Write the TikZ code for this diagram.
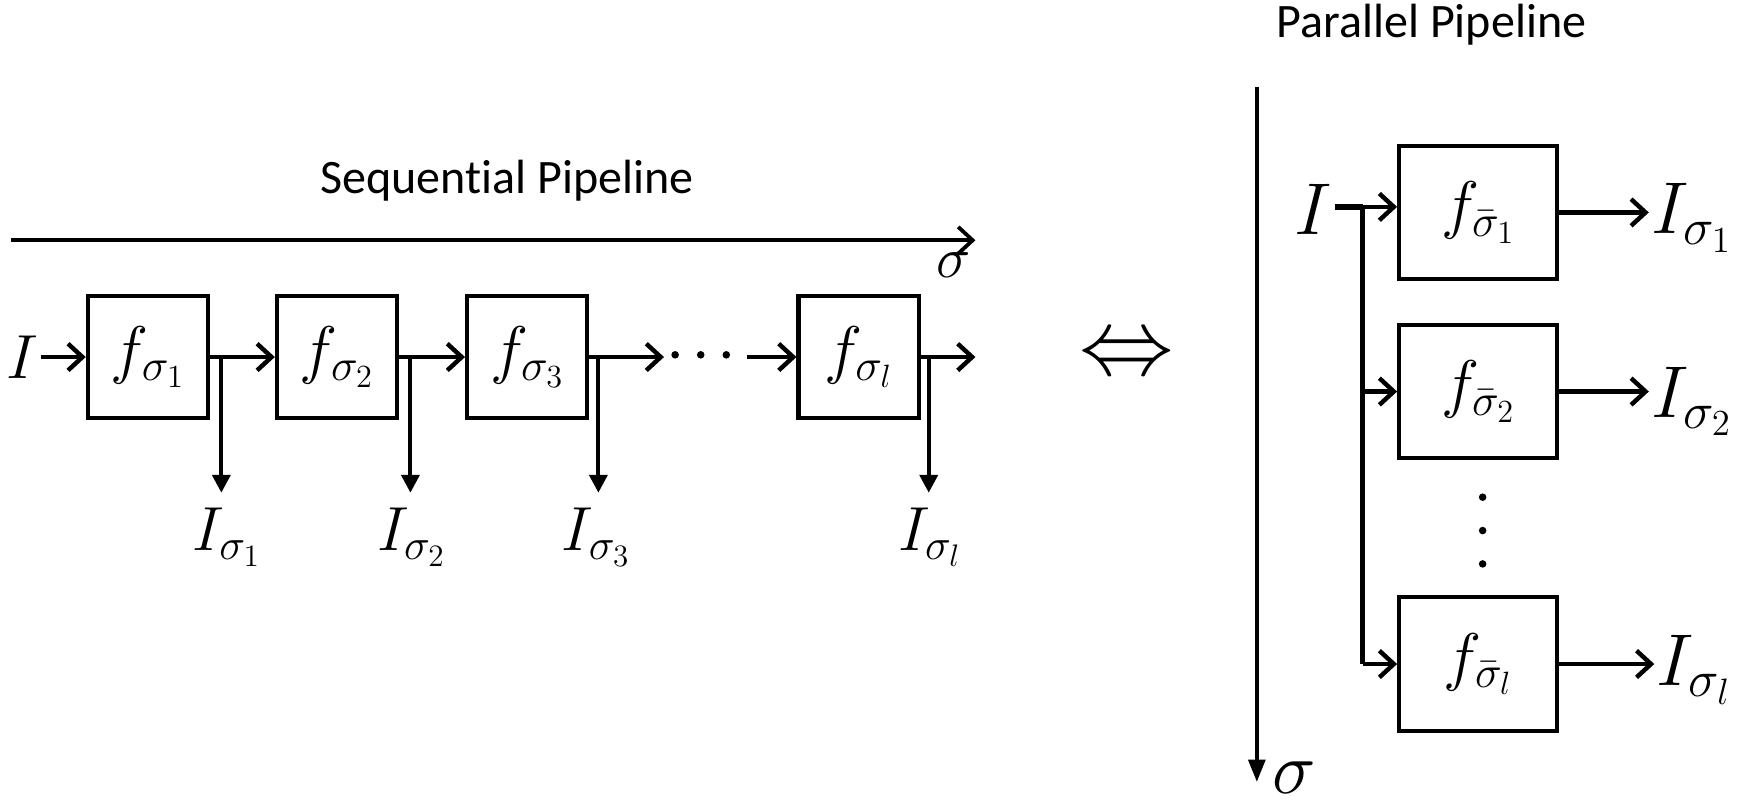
\documentclass[tikz,border=0pt]{standalone}
\usepackage{fontspec}
\newfontfamily\titlefont[Ligatures=NoCommon]{Carlito}
\DeclareFontShape{OML}{cmm}{m}{it}{<-6>cmmi5 <6-8>cmmi7 <8-11>cmmi10 <11->cmmi12}{}
\DeclareFontShape{OMS}{cmsy}{m}{n}{<-6>cmsy5 <6-8>cmsy7 <8->cmsy10}{}
\DeclareFontShape{OT1}{cmr}{m}{n}{<-6>cmr5 <6-8>cmr7 <8-11>cmr10 <11->cmr12}{}
\usetikzlibrary{arrows.meta}
\begin{document}
\begin{tikzpicture}[x=0.5pt,y=-0.5pt,
  fbox/.style={draw,line width=1.9pt,inner sep=0pt,minimum width=54pt,minimum height=55pt,font=\fontsize{29}{34}\selectfont},
  pbox/.style={fbox,minimum width=71pt,minimum height=60pt},
  flow/.style={line width=2pt,-{Straight Barb[length=6.5pt,width=12pt]}},
  tap/.style={line width=1.8pt,-{Triangle[length=8pt,width=8pt]}},
  axisline/.style={line width=1.7pt,-{Straight Barb[length=6.5pt,width=12pt]}},
  paxis/.style={line width=1.7pt,-{Triangle[length=10pt,width=7.5pt]}},
  mathlbl/.style={font=\fontsize{28}{33}\selectfont,inner sep=1pt},
  biglbl/.style={font=\fontsize{33}{38}\selectfont,inner sep=1pt},
  ttl/.style={font=\titlefont\fontsize{21.6}{26}\selectfont,inner sep=0pt},
  dot/.style={fill=black}
  ]
\useasboundingbox (0,0) rectangle (1568,725);

% ---------- Sequential pipeline ----------
\node[ttl] (stitle) at (456,162) {Sequential Pipeline};
\coordinate (sa0) at (10,216);
\coordinate (sa1) at (877,216);
\draw[axisline] (sa0) -- (sa1);
\node[mathlbl,font=\fontsize{26}{30}\selectfont] (ssig) at (857,238) {$\sigma$};

\node[mathlbl] (sI) at (20,321) {$I$};
\node[fbox] (b1) at (133,321) {$f_{\sigma_1}$};
\node[fbox] (b2) at (303,321) {$f_{\sigma_2}$};
\node[fbox] (b3) at (474,321) {$f_{\sigma_3}$};
\node[fbox] (bl) at (772,321) {$f_{\sigma_l}$};

\coordinate (dl) at (597,321);
\coordinate (dr) at (672,321);
\coordinate (send) at (877,321);
\fill[dot] (607,319) circle (1.7pt);
\fill[dot] (630,319) circle (1.7pt);
\fill[dot] (653,319) circle (1.7pt);

\draw[flow] (sI) -- (b1);
\draw[flow] (b1) -- (b2);
\draw[flow] (b2) -- (b3);
\draw[flow] (b3) -- (dl);
\draw[flow] (dr) -- (bl);
\draw[flow] (bl) -- (send);

\coordinate (t1) at (199,321); \coordinate (t1e) at (199,443);
\coordinate (t2) at (369,321); \coordinate (t2e) at (369,443);
\coordinate (t3) at (538,321); \coordinate (t3e) at (538,443);
\coordinate (t4) at (835,321); \coordinate (t4e) at (835,443);
\draw[tap] (t1) -- (t1e);
\draw[tap] (t2) -- (t2e);
\draw[tap] (t3) -- (t3e);
\draw[tap] (t4) -- (t4e);

\node[mathlbl] (o1) at (204,483) {$I_{\sigma_1}$};
\node[mathlbl] (o2) at (370,483) {$I_{\sigma_2}$};
\node[mathlbl] (o3) at (536,483) {$I_{\sigma_3}$};
\node[mathlbl] (o4) at (836,483) {$I_{\sigma_l}$};

% ---------- Equivalence ----------
\node[font=\fontsize{42.5}{50}\selectfont,inner sep=0pt] (eq) at (1013,321) {$\Leftrightarrow$};

% ---------- Parallel pipeline ----------
\node[ttl] (ptitle) at (1287,22) {Parallel Pipeline};
\coordinate (pa0) at (1130,78);
\coordinate (pa1) at (1130,703);
\draw[paxis] (pa0) -- (pa1);
\node[biglbl,inner sep=0pt] (psig) at (1164,699) {$\sigma$};

\node[biglbl] (pI) at (1181,188) {$I$};
\node[pbox] (p1) at (1329,191) {$f_{\bar\sigma_1}$};
\node[pbox] (p2) at (1329,352) {$f_{\bar\sigma_2}$};
\node[pbox] (pl) at (1329,597) {$f_{\bar\sigma_l}$};

\coordinate (j0) at (1225,186);
\coordinate (j2) at (1225,352);
\coordinate (jl) at (1225,597);
\draw[line width=3pt] (pI.east |- j0) -- (j0);
\draw[line width=2pt] (j0) -- (jl);
\draw[flow] (j0) -- (j0 -| p1.west);
\draw[flow] (j2) -- (j2 -| p2.west);
\draw[flow] (jl) -- (jl -| pl.west);

\fill[dot] (1333,447) circle (1.7pt);
\fill[dot] (1333,477) circle (1.7pt);
\fill[dot] (1333,507) circle (1.7pt);

\node[biglbl] (q1) at (1521,196) {$I_{\sigma_1}$};
\node[biglbl] (q2) at (1521,361) {$I_{\sigma_2}$};
\node[biglbl] (ql) at (1523,602) {$I_{\sigma_l}$};
\draw[flow] (p1.east) -- (p1.east -| q1.west);
\draw[flow] (p2.east) -- (p2.east -| q2.west);
\draw[flow] (pl.east) -- (pl.east -| ql.west);
\end{tikzpicture}
\end{document}
